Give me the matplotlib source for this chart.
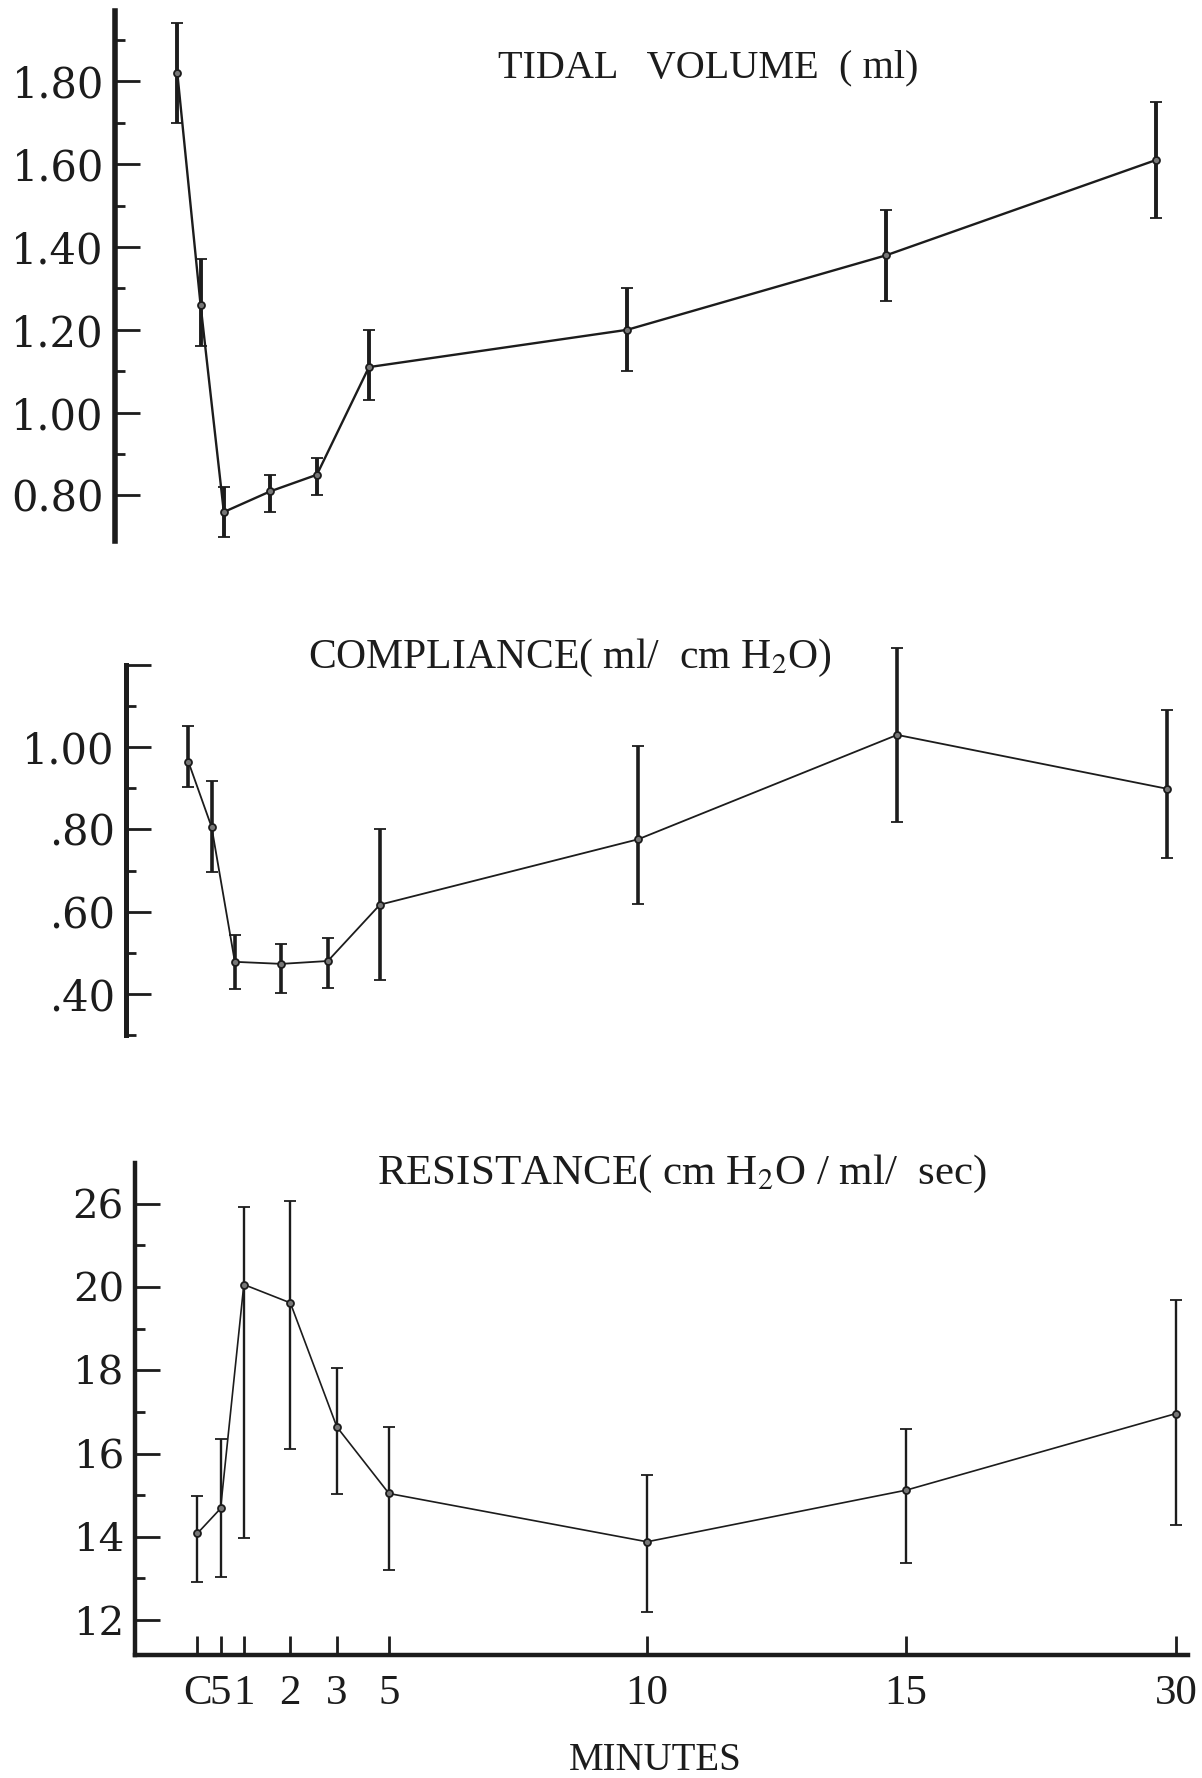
import matplotlib.pyplot as plt
from matplotlib.ticker import FixedLocator

plt.rcParams["mathtext.fontset"] = "stix"

# time axis (non-linear spacing as drawn in the original)
time_labels = ["C", "5", "1", "2", "3", "5", "10", "15", "30"]
time_pos = [-1.0, -0.5, 0.0, 1.0, 2.0, 3.12, 8.67, 14.24, 20.04]

# tidal volume (ml): mean, lower and upper error bar ends
tidal_mean = [1.82, 1.26, 0.76, 0.81, 0.85, 1.11, 1.20, 1.38, 1.61]
tidal_low = [1.70, 1.16, 0.70, 0.76, 0.80, 1.03, 1.10, 1.27, 1.47]
tidal_high = [1.94, 1.37, 0.82, 0.85, 0.89, 1.20, 1.30, 1.49, 1.75]

# compliance (ml/cmH2O)
comp_mean = [0.965, 0.806, 0.478, 0.473, 0.480, 0.617, 0.776, 1.030, 0.899]
comp_low = [0.903, 0.696, 0.411, 0.403, 0.414, 0.433, 0.618, 0.819, 0.730]
comp_high = [1.052, 0.919, 0.543, 0.522, 0.535, 0.801, 1.002, 1.242, 1.091]

# resistance (cmH2O/ml/sec) -- top tick is printed "26" in the original
res_mean = [14.08, 14.68, 20.06, 19.62, 16.64, 15.04, 13.88, 15.12, 16.96]
res_low = [12.92, 13.04, 13.96, 16.12, 15.02, 13.20, 12.20, 13.36, 14.28]
res_high = [14.98, 16.34, 21.92, 22.06, 18.06, 16.64, 15.48, 16.58, 19.68]
res_ticks = [12, 14, 16, 18, 20, 22]
res_ticklabels = ["12", "14", "16", "18", "20", "26"]

INK = "#1c1c1c"
W, H = 1202, 1778
XLIM = (-2.34, 20.3)


def panel(fig, rect, mean, low, high, ylim, err_lw, line_lw, spine_lw):
    ax = fig.add_axes(rect)
    yerr = [[m - lo for m, lo in zip(mean, low)], [hi - m for m, hi in zip(mean, high)]]
    ax.errorbar(time_pos, mean, yerr=yerr, color=INK, lw=line_lw, elinewidth=err_lw,
                capsize=4, capthick=2.4, marker="o", ms=5, mfc="#777777", mec=INK,
                mew=1.3, clip_on=False, zorder=3)
    ax.set_xlim(*XLIM)
    ax.set_ylim(*ylim)
    for s in ["top", "right", "bottom"]:
        ax.spines[s].set_visible(False)
    ax.spines["left"].set_linewidth(spine_lw)
    ax.spines["left"].set_color(INK)
    ax.set_xticks([])
    ax.tick_params(axis="y", which="both", direction="in", color=INK, width=2.0,
                   labelcolor=INK)
    ax.tick_params(axis="y", which="major", length=18, pad=8)
    ax.tick_params(axis="y", which="minor", length=7)
    return ax


fig = plt.figure(figsize=(W / 100, H / 100), dpi=100)
fig.patch.set_facecolor("white")

# tidal volume
ax1 = panel(fig, [115 / W, 1 - 541 / H, 1053 / W, 530 / H],
            tidal_mean, tidal_low, tidal_high, (0.69, 1.97), 2.8, 1.7, 4.0)
ax1.yaxis.set_major_locator(FixedLocator([0.8, 1.0, 1.2, 1.4, 1.6, 1.8]))
ax1.yaxis.set_minor_locator(FixedLocator([0.9, 1.1, 1.3, 1.5, 1.7, 1.9]))
ax1.set_yticklabels(["0.80", "1.00", "1.20", "1.40", "1.60", "1.80"],
                    family="DejaVu Serif", fontsize=30)

# compliance
ax2 = panel(fig, [126 / W, 1 - 1035 / H, 1053 / W, 370 / H],
            comp_mean, comp_low, comp_high, (0.30, 1.20), 2.6, 1.3, 3.6)
ax2.yaxis.set_major_locator(FixedLocator([0.4, 0.6, 0.8, 1.0, 1.2]))
ax2.yaxis.set_minor_locator(FixedLocator([0.3, 0.5, 0.7, 0.9, 1.1]))
ax2.set_yticklabels([".40", ".60", ".80", "1.00", ""],
                    family="DejaVu Serif", fontsize=30)

# resistance
ax3 = panel(fig, [135 / W, 1 - 1655 / H, 1053 / W, 492 / H],
            res_mean, res_low, res_high, (11.16, 22.98), 1.7, 1.2, 3.2)
ax3.yaxis.set_major_locator(FixedLocator(res_ticks))
ax3.yaxis.set_minor_locator(FixedLocator([13, 15, 17, 19, 21, 23]))
ax3.set_yticklabels(res_ticklabels, family="DejaVu Serif", fontsize=29)
ax3.spines["bottom"].set_visible(True)
ax3.spines["bottom"].set_linewidth(3.2)
ax3.spines["bottom"].set_color(INK)
ax3.set_xticks(time_pos)
ax3.set_xticklabels(time_labels, family="Liberation Serif", fontsize=31)
ax3.tick_params(axis="x", direction="in", length=14, width=2.0, color=INK,
                pad=14, labelcolor=INK)

serif = ["Liberation Serif", "DejaVu Serif"]
fig.text(708 / W, 1 - 68 / H, "TIDAL   VOLUME  ( ml)", ha="center",
         va="center", family=serif, fontsize=29, color=INK)
fig.text(570 / W, 1 - 658 / H, "COMPLIANCE( ml/  cm H$_2$O)", ha="center",
         va="center", family=serif, fontsize=30, color=INK)
fig.text(682 / W, 1 - 1174 / H, "RESISTANCE( cm H$_2$O / ml/  sec)", ha="center",
         va="center", family=serif, fontsize=31, color=INK)
fig.text(655 / W, 1 - 1760 / H, "MINUTES", ha="center", va="center",
         family=serif, fontsize=28, color=INK)

fig.savefig("out.png", dpi=100, facecolor="white")
